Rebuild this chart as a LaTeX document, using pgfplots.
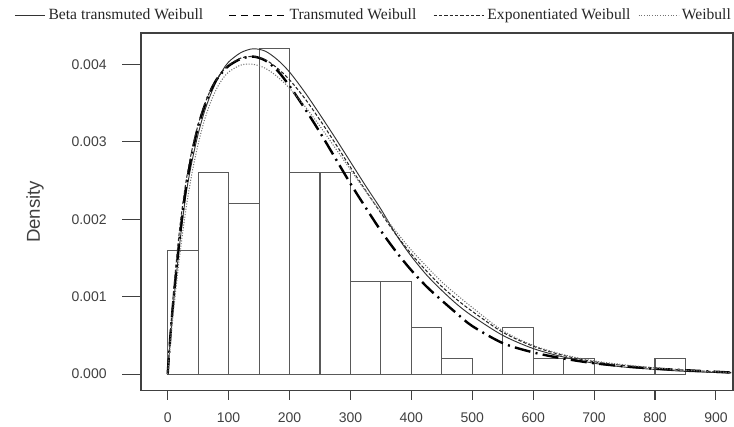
\documentclass[border=0pt]{standalone}
\usepackage{fontspec}
\setmainfont{Liberation Sans}
\newfontfamily\legfont{Liberation Serif}
\usepackage{pgfplots}
\pgfplotsset{compat=1.18}
\pgfplotsset{
  leg/.style={legend image code/.code={\draw[##1] (0pt,0pt) -- (#1,0pt);}},
  legtw/.style={legend image code/.code={\draw[##1, line width=0.7pt, dash pattern=on 5pt off 4pt] (0pt,0pt) -- (#1,0pt);}},
}

\begin{document}
\begin{tikzpicture}
\useasboundingbox (0pt,0pt) rectangle (550.5pt,320.25pt);
\begin{axis}[
  at={(105.75pt,27.2pt)}, anchor=south west,
  scale only axis, width=444pt, height=268.3pt,
  xmin=-43.8, xmax=928, ymin=-0.000215, ymax=0.004404,
  xtick={0,100,200,300,400,500,600,700,800,900},
  ytick={0,0.001,0.002,0.003,0.004},
  scaled y ticks=false,
  ticklabel style={font=\fontsize{10.5}{12}\selectfont, text=black!75},
  yticklabel style={xshift=-18pt, /pgf/number format/.cd, fixed, fixed zerofill, precision=3},
  xticklabel style={yshift=-9pt},
  /pgf/number format/assume math mode=true,
  xtick pos=bottom, ytick pos=left,
  tick align=outside,
  axis line style={draw=black!75, line width=0.8pt},
  tick style={draw=black!75, line width=0.8pt},
  xtick style={/pgfplots/major tick length=6.75pt},
  ytick style={/pgfplots/major tick length=14.25pt},
  ylabel={Density},
  ylabel style={at={(axis description cs:-0.179,0.5)}, anchor=center, font=\fontsize{14}{16}\selectfont, text=black!75},
  legend columns=4,
  legend style={at={(axis description cs:-0.2145,1.050)}, anchor=west, draw=none, fill=none, inner sep=0pt,
    font=\legfont\fontsize{11.7}{14}\selectfont, text=black!85,
    /tikz/column 2/.style={column sep=17pt},
    /tikz/column 4/.style={column sep=10.5pt},
    /tikz/column 6/.style={column sep=3.75pt}},
]

% histogram, bins of width 50
\addplot[ybar interval, draw=black!65, fill=none, line width=0.8pt, forget plot] coordinates {
  (0,0.0016) (50,0.0026) (100,0.0022) (150,0.0042) (200,0.0026) (250,0.0026)
  (300,0.0012) (350,0.0012) (400,0.0006) (450,0.0002) (500,0) (550,0.0006)
  (600,0.0002) (650,0.0002) (700,0) (750,0) (800,0.0002) (850,0)
};

% Beta transmuted Weibull
\addplot[smooth, black!80, line width=0.7pt, leg=23pt] coordinates {
  (0,0) (5,0.0005) (10,0.00095) (20,0.0017) (30,0.00232) (40,0.00275) (50,0.0031)
  (60,0.00338) (70,0.0036) (80,0.00378) (90,0.00392) (100,0.00403) (120,0.00415)
  (140,0.0042) (160,0.00417) (180,0.00406) (200,0.0039) (225,0.00364) (250,0.00335)
  (275,0.00305) (300,0.00274) (325,0.00243) (350,0.00213) (375,0.0018) (400,0.00152)
  (425,0.00128) (450,0.00108) (475,0.0009) (500,0.00075) (550,0.0005) (600,0.00033)
  (650,0.00022) (700,0.00014) (750,0.00009) (800,0.00006) (850,0.000035)
  (900,0.00002) (925,0.000015)
};
\addlegendentry{Beta transmuted Weibull}

% Transmuted Weibull
\addplot[smooth, black, line width=1.8pt, dash pattern=on 12pt off 4pt on 1.5pt off 4pt, legtw=43pt] coordinates {
  (0,0) (5,0.00055) (10,0.001) (20,0.00178) (30,0.0024) (40,0.00285) (50,0.0032)
  (60,0.00345) (70,0.00365) (80,0.0038) (90,0.0039) (100,0.00398) (120,0.00407)
  (140,0.0041) (160,0.00405) (180,0.00392) (200,0.00372) (225,0.00343) (250,0.00312)
  (275,0.00279) (300,0.00246) (325,0.00215) (350,0.00185) (375,0.00158) (400,0.00134)
  (425,0.00113) (450,0.00095) (475,0.00078) (500,0.00062) (550,0.0004) (600,0.00028)
  (650,0.0002) (700,0.00014) (750,0.0001) (800,0.00007) (850,0.00005)
  (900,0.00003) (925,0.00002)
};
\addlegendentry{Transmuted Weibull}

% Exponentiated Weibull
\addplot[smooth, black!85, line width=0.8pt, dash pattern=on 2.5pt off 1.5pt, leg=38pt] coordinates {
  (0,0) (5,0.0006) (10,0.0011) (20,0.0019) (30,0.00248) (40,0.0029) (50,0.00322)
  (60,0.00347) (70,0.00366) (80,0.0038) (90,0.00391) (100,0.00399) (120,0.00408)
  (140,0.0041) (160,0.00406) (180,0.00395) (200,0.0038) (225,0.00356) (250,0.00328)
  (275,0.00298) (300,0.00267) (325,0.00237) (350,0.00208) (375,0.0018) (400,0.00155)
  (425,0.00133) (450,0.00113) (475,0.00096) (500,0.00081) (550,0.00054) (600,0.00036)
  (650,0.00024) (700,0.00016) (750,0.00011) (800,0.00008) (850,0.00005)
  (900,0.00003) (925,0.00002)
};
\addlegendentry{Exponentiated Weibull}

% Weibull
\addplot[smooth, black!55, line width=0.8pt, dash pattern=on 0.8pt off 1.2pt, leg=30pt] coordinates {
  (0,0) (5,0.00045) (10,0.00085) (20,0.00155) (30,0.00213) (40,0.0026) (50,0.00297)
  (60,0.00327) (70,0.0035) (80,0.00368) (90,0.00381) (100,0.0039) (120,0.00399)
  (140,0.004) (160,0.00395) (180,0.00384) (200,0.00369) (225,0.00346) (250,0.0032)
  (275,0.00292) (300,0.00264) (325,0.00236) (350,0.00209) (375,0.00184) (400,0.0016)
  (425,0.00139) (450,0.00119) (475,0.00102) (500,0.00086) (550,0.00056) (600,0.00037)
  (650,0.00025) (700,0.00017) (750,0.00012) (800,0.00008) (850,0.00005)
  (900,0.00003) (925,0.00002)
};
\addlegendentry{Weibull}

\end{axis}
\end{tikzpicture}
\end{document}
